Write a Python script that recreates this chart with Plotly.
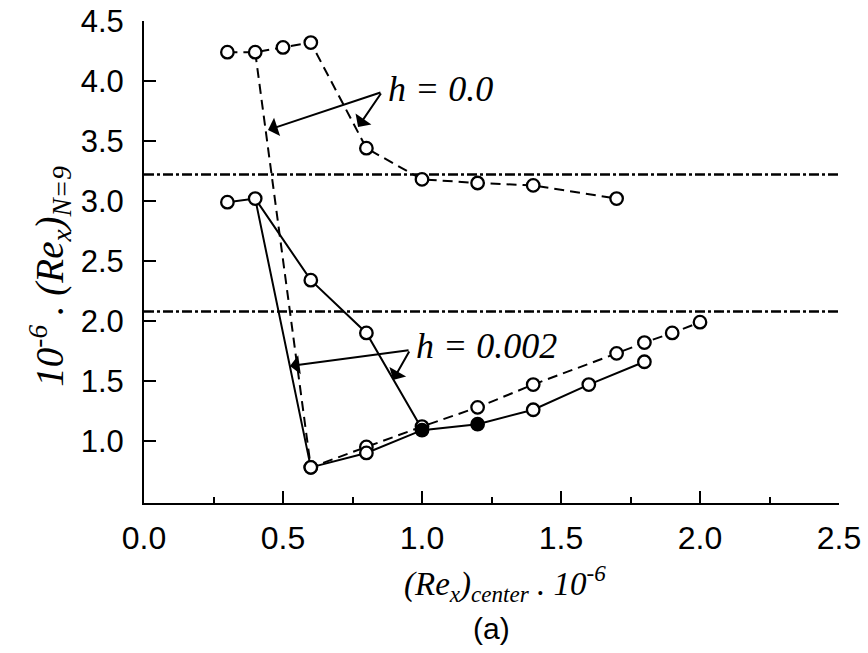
import plotly.graph_objects as go

# h = 0.0 (dashed) branches
dash_upper_x = [0.3, 0.4, 0.5, 0.6, 0.8, 1.0, 1.2, 1.4, 1.7]
dash_upper_y = [4.24, 4.24, 4.28, 4.32, 3.44, 3.18, 3.15, 3.13, 3.02]
dash_lower_x = [0.4, 0.6, 0.8, 1.0, 1.2, 1.4, 1.7, 1.8, 1.9, 2.0]
dash_lower_y = [4.24, 0.78, 0.95, 1.12, 1.28, 1.47, 1.73, 1.82, 1.90, 1.99]

# h = 0.002 (solid) branches
solid_upper_x = [0.3, 0.4, 0.6, 0.8, 1.0]
solid_upper_y = [2.99, 3.02, 2.34, 1.90, 1.10]
solid_lower_x = [0.4, 0.6, 0.8, 1.0, 1.2, 1.4, 1.6, 1.8]
solid_lower_y = [3.02, 0.78, 0.90, 1.09, 1.14, 1.26, 1.47, 1.66]
solid_lower_filled = [False, False, False, True, True, False, False, False]

# reference levels (dash-dot)
ref_levels = [3.22, 2.08]

x_ticks = [0.0, 0.5, 1.0, 1.5, 2.0, 2.5]
y_ticks = [1.0, 1.5, 2.0, 2.5, 3.0, 3.5, 4.0, 4.5]

fig = go.Figure()

DASH = "10px,6px"
LW = 2

# lines first
for xs, ys, dash in [(dash_upper_x, dash_upper_y, DASH), (dash_lower_x, dash_lower_y, DASH),
                     (solid_upper_x, solid_upper_y, "solid"), (solid_lower_x, solid_lower_y, "solid")]:
    fig.add_trace(go.Scatter(x=xs, y=ys, mode="lines",
                             line=dict(color="black", width=LW, dash=dash),
                             showlegend=False, hoverinfo="skip"))

# reference dash-dot lines
for lvl in ref_levels:
    fig.add_trace(go.Scatter(x=[x_ticks[0], x_ticks[-1]], y=[lvl, lvl], mode="lines",
                             line=dict(color="black", width=2.5, dash="10px,3px,3px,3px"),
                             showlegend=False, hoverinfo="skip"))

# markers
def mk(xs, ys, fills=None):
    cols = ["black" if f else "white" for f in fills] if fills else "white"
    fig.add_trace(go.Scatter(x=xs, y=ys, mode="markers",
                             marker=dict(symbol="circle", size=12.5, color=cols,
                                         line=dict(color="black", width=2.3)),
                             showlegend=False, hoverinfo="skip"))

mk(dash_upper_x, dash_upper_y)
mk(dash_lower_x[1:], dash_lower_y[1:])
mk(solid_upper_x[:-1], solid_upper_y[:-1])
mk(solid_lower_x[1:], solid_lower_y[1:], solid_lower_filled[1:])

# arrows
arrow_specs = [
    (0.856, 3.908, 0.446, 3.592),
    (0.856, 3.908, 0.770, 3.617),
    (0.957, 1.758, 0.525, 1.625),
    (0.957, 1.758, 0.896, 1.508),
]
for tx, ty, hx, hy in arrow_specs:
    fig.add_annotation(x=hx, y=hy, ax=tx, ay=ty, xref="x", yref="y", axref="x", ayref="y",
                       text="", showarrow=True, arrowhead=1, arrowsize=1.6, arrowwidth=2,
                       arrowcolor="black")

serif = "Liberation Serif"
fig.add_annotation(x=0.87, y=3.93, xref="x", yref="y", text="<i>h = 0.0</i>", showarrow=False,
                   xanchor="left", yanchor="middle", font=dict(family=serif, size=36, color="black"))
fig.add_annotation(x=0.97, y=1.79, xref="x", yref="y", text="<i>h = 0.002</i>", showarrow=False,
                   xanchor="left", yanchor="middle", font=dict(family=serif, size=36, color="black"))

# axis titles
fig.add_annotation(x=-0.135, y=0.47, xref="paper", yref="paper", textangle=-90,
                   text="<i>10<sup>-6</sup> . (Re<sub>x</sub>)<sub>N=9</sub></i>", showarrow=False,
                   xanchor="center", yanchor="middle", font=dict(family=serif, size=39, color="black"))
fig.add_annotation(x=0.52, y=0, xref="paper", yref="paper", yshift=-80,
                   text="<i>(Re<sub>x</sub>)<sub>center</sub> . 10<sup>-6</sup></i>", showarrow=False,
                   xanchor="center", yanchor="middle", font=dict(family=serif, size=33, color="black"))
fig.add_annotation(x=0.5, y=0, xref="paper", yref="paper", yshift=-125,
                   text="(a)", showarrow=False,
                   xanchor="center", yanchor="middle", font=dict(family="Liberation Sans", size=30, color="black"))

fig.update_xaxes(range=[0, 2.5], tickvals=x_ticks, ticktext=[f"{v:.1f}" for v in x_ticks],
                 ticks="inside", ticklen=12, tickwidth=1.5, tickcolor="black",
                 minor=dict(dtick=0.25, ticks="inside", ticklen=6, tickwidth=1.5, tickcolor="black"),
                 showline=True, linecolor="black", linewidth=2, showgrid=False, zeroline=False,
                 automargin=False,
                 tickfont=dict(family="Liberation Sans", size=32, color="black"), ticklabelstandoff=6)
fig.update_yaxes(range=[0.483, 4.5], tickvals=y_ticks, ticktext=[f"{v:.1f}" for v in y_ticks],
                 ticks="inside", ticklen=12, tickwidth=1.5, tickcolor="black",
                 showline=True, linecolor="black", linewidth=2, showgrid=False, zeroline=False,
                 automargin=False,
                 tickfont=dict(family="Liberation Sans", size=31, color="black"), ticklabelstandoff=12)

fig.update_layout(width=868, height=653, margin=dict(l=144, r=29, t=21, b=150),
                  plot_bgcolor="white", paper_bgcolor="white", showlegend=False)

fig.write_html("out.html")
